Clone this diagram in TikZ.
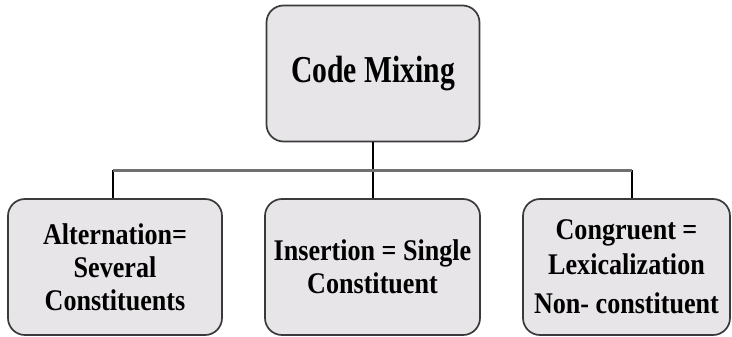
\documentclass[tikz,border=0pt]{standalone}
\usepackage{fontspec}
\setmainfont{Liberation Serif}
\newfontfamily\headfont{Liberation Serif}[FakeStretch=0.78]
\newfontfamily\kindfont{Liberation Serif}[FakeStretch=0.87]
\definecolor{boxfill}{HTML}{E7E5E7}
\definecolor{boxline}{HTML}{3A3A3A}
\definecolor{busline}{HTML}{707070}
\begin{document}
\begin{tikzpicture}[x=1pt,y=-1pt,
  card/.style={draw=boxline, line width=1.7pt, fill=boxfill, rounded corners=17pt,
    inner sep=0pt, align=center},
  kind/.style={card, minimum height=136pt, font=\kindfont\bfseries\fontsize{30}{33}\selectfont},
  link/.style={draw=black, line width=1.3pt},
  bus/.style={draw=busline, line width=3pt}]
\useasboundingbox (0,0) rectangle (732,337);
\fill[white] (0,0) rectangle (732,337);

% root and the three kinds
\node[card, minimum width=213pt, minimum height=136pt, font=\headfont\bfseries\fontsize{38}{42}\selectfont]
  (root) at (373,73.5) {Code Mixing};
\node[kind, minimum width=214pt] (alt) at (115,267) {Alternation=\\Several\\Constituents};
\node[kind, minimum width=215pt] (ins) at (372.5,267) {Insertion = Single\\Constituent};
\node[kind, minimum width=207pt, font=\kindfont\bfseries\fontsize{30}{35}\selectfont]
  (con) at (626.5,267) {Congruent =\\Lexicalization\\[4pt]Non- constituent};

% tree connectors
\coordinate (jroot) at (373,170);
\coordinate (jalt) at (113,170);
\coordinate (jcon) at (632,170);
\draw[link] (root.south) -- (jroot);
\draw[link] (jalt) -- (jalt |- alt.north);
\draw[link] (jroot) -- (jroot |- ins.north);
\draw[link] (jcon) -- (jcon |- con.north);
\draw[bus] (jalt) -- (jcon);
\end{tikzpicture}
\end{document}
